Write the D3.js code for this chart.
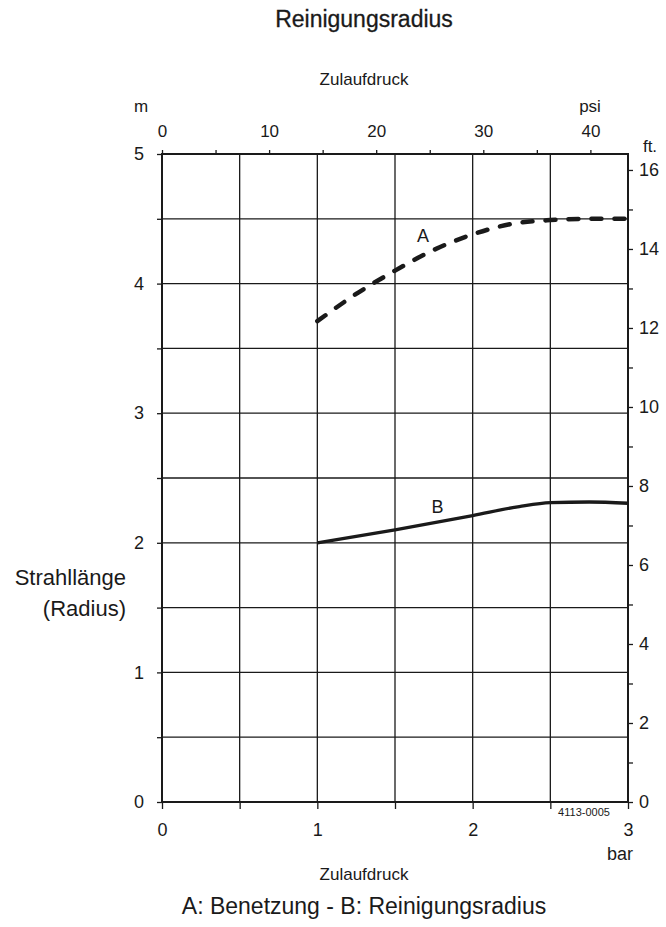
<!DOCTYPE html>
<html>
<head>
<meta charset="utf-8">
<script src="https://cdn.jsdelivr.net/npm/d3@7"></script>
<style>
  body { margin: 0; background: #fff; }
  svg text { font-family: "Liberation Sans", Arial, Helvetica, sans-serif; fill: #1a1a1a; }
</style>
</head>
<body>
<div id="chart"></div>
<script>
// data
var pressureA = [1, 1.25, 1.5, 1.75, 2, 2.25, 2.5, 2.75, 3];
var radiusA = [3.71, 3.92, 4.10, 4.26, 4.38, 4.46, 4.49, 4.50, 4.50];
var pressureB = [1, 1.5, 2, 2.3, 2.5, 2.75, 3];
var radiusB = [2.0, 2.10, 2.21, 2.28, 2.31, 2.315, 2.305];
var barTicks = [0, 0.5, 1, 1.5, 2, 2.5, 3];
var meterTicks = [0, 0.5, 1, 1.5, 2, 2.5, 3, 3.5, 4, 4.5, 5];
var psiTicks = [0, 5, 10, 15, 20, 25, 30, 35, 40];
var ftTicks = d3.range(0, 17);

var width = 666, height = 927;
var plotL = 162, plotR = 628, plotT = 154, plotB = 802;
var PSI_PER_BAR = 14.5038, M_PER_FT = 0.3048;

var svg = d3.select("#chart").append("svg")
    .attr("width", width).attr("height", height);

var x = d3.scaleLinear().domain([0, 3]).range([plotL, plotR]);
var y = d3.scaleLinear().domain([0, 5]).range([plotB, plotT]);
var xPsi = d3.scaleLinear().domain([0, 3 * PSI_PER_BAR]).range([plotL, plotR]);
var yFt = d3.scaleLinear().domain([0, 5 / M_PER_FT]).range([plotB, plotT]);

var ink = "#1a1a1a";

// grid
var grid = svg.append("g").attr("stroke", ink).attr("stroke-width", 1.3);
grid.selectAll(".v").data(barTicks.slice(1, -1)).enter().append("line")
    .attr("x1", function (d) { return x(d); }).attr("x2", function (d) { return x(d); })
    .attr("y1", plotT).attr("y2", plotB);
grid.selectAll(".h").data(meterTicks.slice(1, -1)).enter().append("line")
    .attr("x1", plotL).attr("x2", plotR)
    .attr("y1", function (d) { return y(d); }).attr("y2", function (d) { return y(d); });

// axes
function style(g, size) {
    g.select(".domain").remove();
    g.selectAll(".tick line").attr("stroke", ink).attr("stroke-width", 1.3);
    g.selectAll("text").attr("font-size", size).style("fill", ink);
}

svg.append("g").attr("transform", "translate(" + plotL + ",0)")
    .call(d3.axisLeft(y).tickValues(meterTicks).tickSize(5).tickPadding(13)
        .tickFormat(function (d) { return d % 1 === 0 ? d : ""; }))
    .call(style, 18);

svg.append("g").attr("transform", "translate(0," + plotB + ")")
    .call(d3.axisBottom(x).tickValues(barTicks).tickSize(7).tickPadding(14)
        .tickFormat(function (d) { return d % 1 === 0 ? d : ""; }))
    .call(style, 18);

svg.append("g").attr("transform", "translate(0," + plotT + ")")
    .call(d3.axisTop(xPsi).tickValues(psiTicks).tickSize(4).tickPadding(13)
        .tickFormat(function (d) { return d % 10 === 0 ? d : ""; }))
    .call(style, 17);

svg.append("g").attr("transform", "translate(" + plotR + ",0)")
    .call(d3.axisRight(yFt).tickValues(ftTicks).tickSize(5).tickPadding(6)
        .tickFormat(function (d) { return d % 2 === 0 ? d : ""; }))
    .call(style, 18);

// frame
svg.append("rect")
    .attr("x", plotL).attr("y", plotT)
    .attr("width", plotR - plotL).attr("height", plotB - plotT)
    .attr("fill", "none").attr("stroke", ink).attr("stroke-width", 2);

// curves
var lineA = d3.line()
    .x(function (d, i) { return x(pressureA[i]); })
    .y(function (d) { return y(d); })
    .curve(d3.curveMonotoneX);
var lineB = d3.line()
    .x(function (d, i) { return x(pressureB[i]); })
    .y(function (d) { return y(d); })
    .curve(d3.curveMonotoneX);

svg.append("path").attr("d", lineA(radiusA))
    .attr("fill", "none").attr("stroke", ink).attr("stroke-width", 4.5)
    .attr("stroke-linecap", "round")
    .attr("stroke-dasharray", "10,13");
svg.append("path").attr("d", lineB(radiusB))
    .attr("fill", "none").attr("stroke", ink).attr("stroke-width", 3.3);

svg.append("text").attr("x", x(1.68)).attr("y", y(4.32)).attr("text-anchor", "middle")
    .attr("font-size", 18).text("A");
svg.append("text").attr("x", x(1.774)).attr("y", y(2.23)).attr("text-anchor", "middle")
    .attr("font-size", 18).text("B");

// labels
svg.append("text").attr("x", 364).attr("y", 27).attr("text-anchor", "middle")
    .attr("font-size", 23).attr("stroke", ink).attr("stroke-width", 0.3).text("Reinigungsradius");
svg.append("text").attr("x", 364).attr("y", 85).attr("text-anchor", "middle")
    .attr("font-size", 17).text("Zulaufdruck");
svg.append("text").attr("x", 141).attr("y", 112).attr("text-anchor", "middle")
    .attr("font-size", 17).text("m");
svg.append("text").attr("x", 590).attr("y", 112).attr("text-anchor", "middle")
    .attr("font-size", 17).text("psi");
svg.append("text").attr("x", 650).attr("y", 152).attr("text-anchor", "middle")
    .attr("font-size", 17).text("ft.");
svg.append("text").attr("x", 126).attr("y", 585).attr("text-anchor", "end")
    .attr("font-size", 22).text("Strahllänge");
svg.append("text").attr("x", 126).attr("y", 616).attr("text-anchor", "end")
    .attr("font-size", 22).text("(Radius)");
svg.append("text").attr("x", 584).attr("y", 816).attr("text-anchor", "middle")
    .attr("font-size", 11).text("4113-0005");
svg.append("text").attr("x", 620).attr("y", 860).attr("text-anchor", "middle")
    .attr("font-size", 18).text("bar");
svg.append("text").attr("x", 364).attr("y", 880).attr("text-anchor", "middle")
    .attr("font-size", 17).text("Zulaufdruck");
svg.append("text").attr("x", 364).attr("y", 914).attr("text-anchor", "middle")
    .attr("font-size", 23).text("A: Benetzung - B: Reinigungsradius");
</script>
</body>
</html>
